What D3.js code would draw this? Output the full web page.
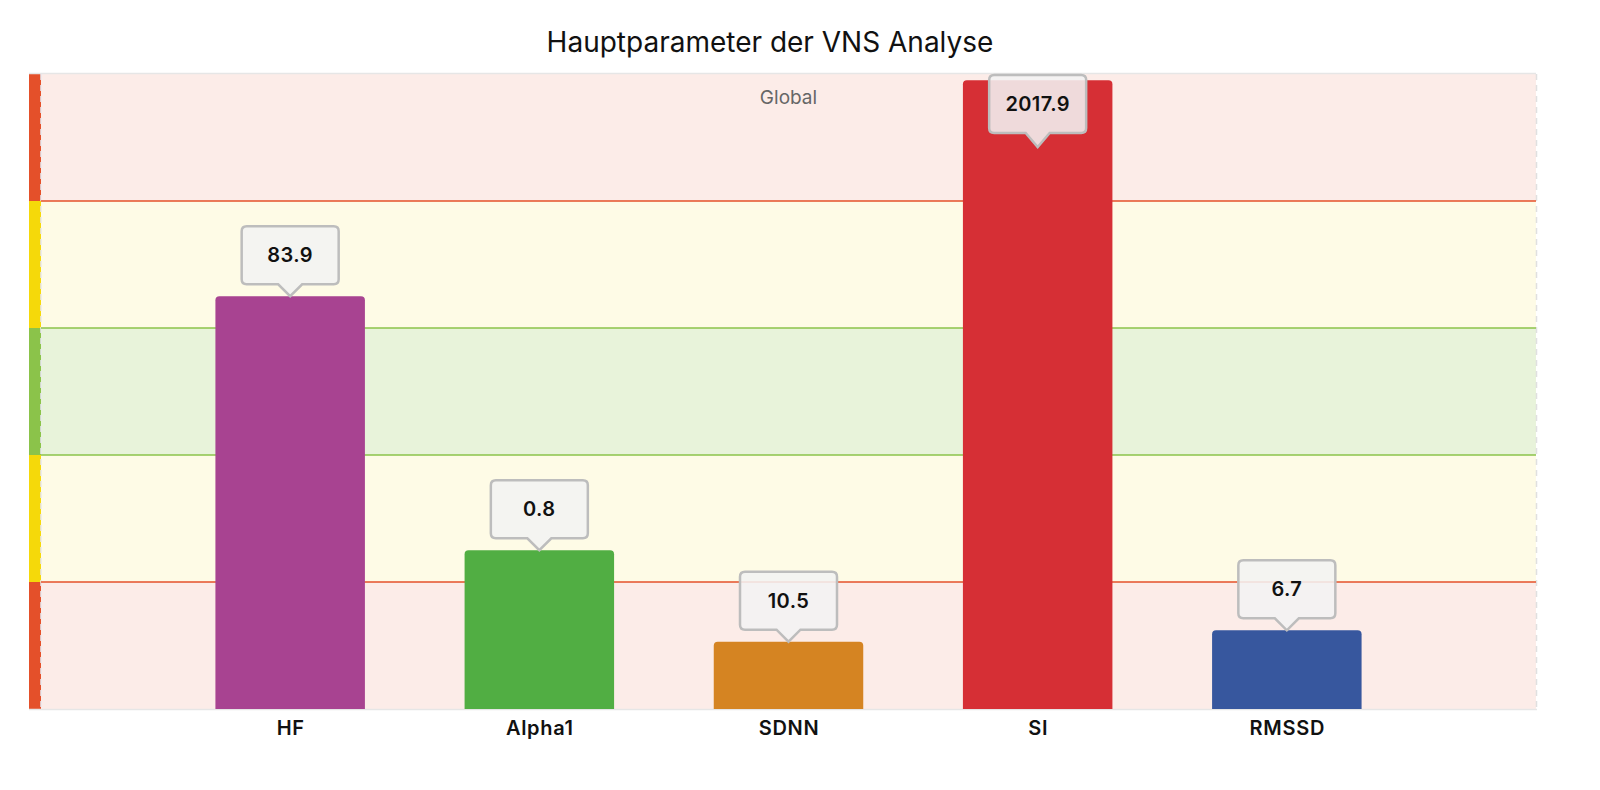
<!DOCTYPE html>
<html lang="de">
<head>
<meta charset="UTF-8">
<title>Hauptparameter der VNS Analyse</title>
<script src="https://d3js.org/d3.v7.min.js"></script>
<style>
    body { margin: 0; background: #fff; font-family: Inter, "Liberation Sans", sans-serif; }
    .title { font-size: 28px; fill: #111; }
    .xlab { font-size: 20px; font-weight: 600; fill: #111; letter-spacing: 0.7px; }
    .tip-text { font-size: 20px; font-weight: 600; fill: #111; letter-spacing: 0.4px; }
</style>
</head>
<body>
<div id="chart"></div>
<script>
// categories, displayed values and their position on the 0..5 zone scale
const params = ["HF", "Alpha1", "SDNN", "SI", "RMSSD"];
const rawValues = [83.9, 0.8, 10.5, 2017.9, 6.7];
const scores = [3.25, 1.25, 0.53, 4.95, 0.62];
const barColors = ["#a84391", "#51ae43", "#d58422", "#d62f35", "#37579e"];

// zones from bottom to top
const zoneFrom = [0, 1, 2, 3, 4];
const zoneTo = [1, 2, 3, 4, 5];
const zoneFill = ["#fcece8", "#fefbe6", "#e8f3da", "#fefbe6", "#fcece8"];
const zoneMark = ["#e4502a", "#f5d90a", "#8bc34a", "#f5d90a", "#e4502a"];
// boundary lines between zones
const lineAt = [1, 2, 3, 4];
const lineColor = ["#e4502a", "#8bc34a", "#8bc34a", "#e4502a"];

const W = 1600, H = 790;
const plotL = 29, stripW = 12, plotR = 1536, plotT = 74, plotB = 709;

const svg = d3.select("#chart").append("svg")
    .attr("width", W).attr("height", H);

const x = d3.scalePoint().domain(params).range([plotL + stripW, plotR]).padding(1);
const y = d3.scaleLinear().domain([0, 5]).range([plotB, plotT]);
const barW = x.step() * 0.6;

// zone backgrounds
svg.selectAll("rect.zone").data(zoneFrom).enter().append("rect")
    .attr("class", "zone")
    .attr("x", plotL + stripW).attr("width", plotR - plotL - stripW)
    .attr("y", (d, i) => y(zoneTo[i]))
    .attr("height", (d, i) => y(d) - y(zoneTo[i]))
    .attr("fill", (d, i) => zoneFill[i]);

// coloured strip on the left
svg.selectAll("rect.strip").data(zoneFrom).enter().append("rect")
    .attr("class", "strip")
    .attr("x", plotL).attr("width", stripW)
    .attr("y", (d, i) => y(zoneTo[i]))
    .attr("height", (d, i) => y(d) - y(zoneTo[i]))
    .attr("fill", (d, i) => zoneMark[i]);

// frame
svg.append("line").attr("x1", plotL).attr("x2", plotR).attr("y1", plotT - 0.5).attr("y2", plotT - 0.5)
    .attr("stroke", "#e6e6e6").attr("stroke-width", 1.5);
svg.append("line").attr("x1", plotL).attr("x2", plotR + 1).attr("y1", plotB + 0.5).attr("y2", plotB + 0.5)
    .attr("stroke", "#e6e6e6").attr("stroke-width", 1.5);
svg.append("line").attr("x1", plotR + 0.5).attr("x2", plotR + 0.5).attr("y1", plotT).attr("y2", plotB)
    .attr("stroke", "#e0e0e0").attr("stroke-width", 1.5).attr("stroke-dasharray", "6,5");
svg.append("line").attr("x1", plotL + stripW).attr("x2", plotL + stripW).attr("y1", plotT).attr("y2", plotB)
    .attr("stroke", "#e8e8ee").attr("stroke-width", 1.5).attr("stroke-dasharray", "6,5");

// zone boundary lines
svg.selectAll("line.bound").data(lineAt).enter().append("line")
    .attr("class", "bound")
    .attr("x1", plotL + stripW).attr("x2", plotR)
    .attr("y1", d => y(d)).attr("y2", d => y(d))
    .attr("stroke", (d, i) => lineColor[i]).attr("stroke-width", 1.5);

// title and band label
svg.append("text").attr("class", "title")
    .attr("x", 770).attr("y", 52).attr("text-anchor", "middle")
    .text("Hauptparameter der VNS Analyse");
svg.append("text")
    .attr("x", (plotL + stripW + plotR) / 2).attr("y", 104)
    .attr("text-anchor", "middle").attr("font-size", 19).attr("fill", "#666")
    .text("Global");

// bars with rounded top corners
function barPath(cx, yt, w, yb, r) {
    const x0 = cx - w / 2, x1 = cx + w / 2;
    return `M${x0},${yb}V${yt + r}Q${x0},${yt} ${x0 + r},${yt}H${x1 - r}Q${x1},${yt} ${x1},${yt + r}V${yb}Z`;
}
svg.selectAll("path.bar").data(params).enter().append("path")
    .attr("class", "bar")
    .attr("d", (d, i) => barPath(x(d), y(scores[i]), barW, plotB, 4))
    .attr("fill", (d, i) => barColors[i]);

// x axis labels
const xAxis = svg.append("g")
    .attr("transform", `translate(0,${plotB})`)
    .call(d3.axisBottom(x).tickSize(0).tickPadding(12));
xAxis.attr("font-family", null).attr("font-size", null);
xAxis.select(".domain").remove();
xAxis.selectAll("text").attr("class", "xlab");

// value callouts
const tipW = 97, tipH = 58, arrow = 12;
const tips = svg.selectAll("g.tip").data(params).enter().append("g").attr("class", "tip");
tips.append("path")
    .attr("d", (d, i) => {
        const cx = x(d);
        let tip = y(scores[i]);
        let by = tip - arrow - tipH;
        if (by < plotT + 1) { by = plotT + 1; tip = by + tipH + arrow + 2; }
        const x0 = cx - tipW / 2, x1 = cx + tipW / 2, yb = by + tipH, r = 5;
        return `M${x0 + r},${by}H${x1 - r}Q${x1},${by} ${x1},${by + r}V${yb - r}Q${x1},${yb} ${x1 - r},${yb}` +
            `H${cx + arrow}L${cx},${tip}L${cx - arrow},${yb}H${x0 + r}Q${x0},${yb} ${x0},${yb - r}V${by + r}Q${x0},${by} ${x0 + r},${by}Z`;
    })
    .attr("fill", "rgba(243,243,243,0.88)")
    .attr("stroke", "#bdbdbd").attr("stroke-width", 2.5);
tips.append("text").attr("class", "tip-text")
    .attr("x", d => x(d))
    .attr("y", (d, i) => {
        let by = y(scores[i]) - arrow - tipH;
        if (by < plotT + 1) by = plotT + 1;
        return by + tipH / 2 + 7;
    })
    .attr("text-anchor", "middle")
    .text((d, i) => rawValues[i]);
</script>
</body>
</html>
